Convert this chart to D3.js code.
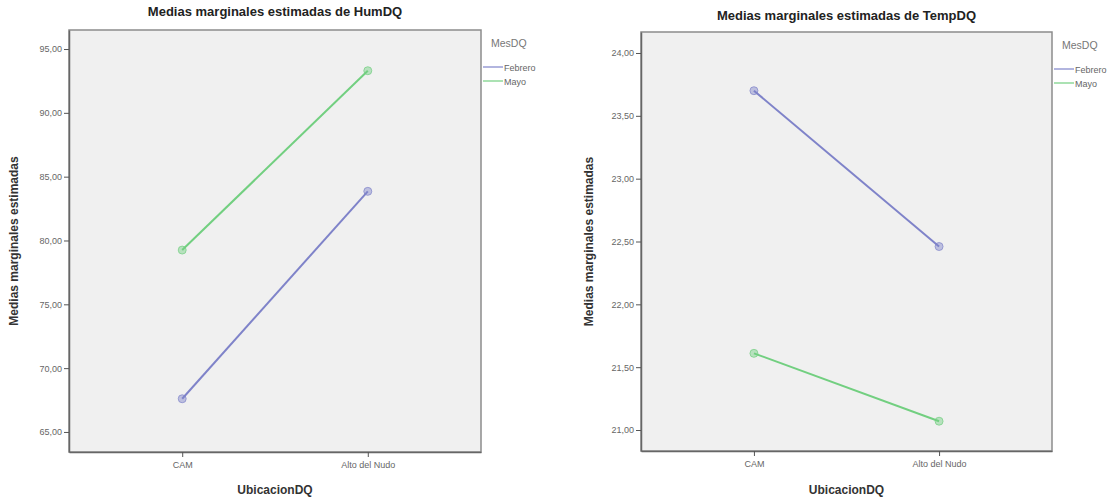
<!DOCTYPE html>
<html><head><meta charset="utf-8">
<script src="https://cdn.jsdelivr.net/npm/d3@7"></script>
<style>body{margin:0;background:#fff}svg{display:block}text{font-family:Arial,"Liberation Sans",sans-serif}</style>
</head><body><svg id="c" width="1117" height="502"></svg>
<script>
const categories = ["CAM", "Alto del Nudo"];
const seriesNames = ["Febrero", "Mayo"];
const humFebrero = [67.6, 83.85];
const humMayo = [79.25, 93.3];
const tempFebrero = [23.70, 22.46];
const tempMayo = [21.61, 21.07];
const humTicks = [65, 70, 75, 80, 85, 90, 95];
const tempTicks = [21.0, 21.5, 22.0, 22.5, 23.0, 23.5, 24.0];
const colors = {"Febrero": "#7f83c9", "Mayo": "#72cf80"};

const svg = d3.select("#c");
const fmt = v => d3.format(".2f")(v).replace(".", ",");

function panel(o) {
  const g = svg.append("g");
  const x = d3.scalePoint().domain(categories).range([o.x0, o.x1]).padding(0.61);
  const y = d3.scaleLinear().domain(o.domain).range([o.y1, o.y0]);
  g.append("rect").attr("x", o.x0).attr("y", o.y0).attr("width", o.x1 - o.x0).attr("height", o.y1 - o.y0)
    .attr("fill", "#f0f0f0").attr("stroke", "#8c8c8c").attr("stroke-width", 1.5);
  const ya = g.append("g").attr("transform", `translate(${o.x0},0)`)
    .call(d3.axisLeft(y).tickValues(o.ticks).tickFormat(fmt).tickSize(5).tickSizeOuter(0).tickPadding(2));
  ya.select(".domain").attr("stroke", "#666").attr("stroke-width", 1.5);
  ya.selectAll(".tick line").attr("stroke", "#555");
  ya.selectAll("text").attr("fill", "#666").style("font-size", "9px");
  const xa = g.append("g").attr("transform", `translate(0,${o.y1})`)
    .call(d3.axisBottom(x).tickSize(5).tickSizeOuter(0).tickPadding(5));
  xa.select(".domain").attr("stroke", "#666").attr("stroke-width", 1.5);
  xa.selectAll(".tick line").attr("stroke", "#555");
  xa.selectAll("text").attr("fill", "#666").style("font-size", "9px");

  const line = d3.line().x((d, i) => x(categories[i])).y(d => y(d));
  o.series.forEach((vals, si) => {
    const c = colors[seriesNames[si]];
    g.append("path").datum(vals).attr("d", line).attr("fill", "none").attr("stroke", c).attr("stroke-width", 2);
    g.selectAll(null).data(vals).enter().append("circle")
      .attr("cx", (d, i) => x(categories[i])).attr("cy", d => y(d)).attr("r", 4)
      .attr("fill", c).attr("fill-opacity", 0.45).attr("stroke", c).attr("stroke-opacity", 0.7);
  });

  const cx = (o.x0 + o.x1) / 2;
  g.append("text").attr("x", cx).attr("y", o.titleY).attr("text-anchor", "middle")
    .style("font-size", "13px").style("font-weight", "bold").attr("fill", "#222").text(o.title);
  g.append("text").attr("x", cx).attr("y", 494).attr("text-anchor", "middle")
    .style("font-size", "12px").style("font-weight", "bold").attr("fill", "#333").text("UbicacionDQ");
  g.append("text").attr("transform", `translate(${o.ylabX},${(o.y0 + o.y1) / 2}) rotate(-90)`)
    .attr("text-anchor", "middle").style("font-size", "12px").style("font-weight", "bold").attr("fill", "#333")
    .text("Medias marginales estimadas");

  g.append("text").attr("x", o.x1 + 10).attr("y", o.legY).style("font-size", "10.5px").attr("fill", "#777").text("MesDQ");
  seriesNames.forEach((s, i) => {
    const ly = o.legY + 20 + i * 14;
    g.append("line").attr("x1", o.x1 + 2).attr("x2", o.x1 + 22).attr("y1", ly).attr("y2", ly)
      .attr("stroke", colors[s]).attr("stroke-width", 1.2);
    g.append("text").attr("x", o.x1 + 23).attr("y", ly + 3.5).style("font-size", "9px").attr("fill", "#666").text(s);
  });
}

panel({x0: 69, x1: 481, y0: 30, y1: 452, domain: [63.43, 96.49], ticks: humTicks,
  series: [humFebrero, humMayo], title: "Medias marginales estimadas de HumDQ", titleY: 16, ylabX: 18, legY: 47});
panel({x0: 641, x1: 1052, y0: 32, y1: 451, domain: [20.833, 24.167], ticks: tempTicks,
  series: [tempFebrero, tempMayo], title: "Medias marginales estimadas de TempDQ", titleY: 20, ylabX: 593, legY: 49});
</script></body></html>
